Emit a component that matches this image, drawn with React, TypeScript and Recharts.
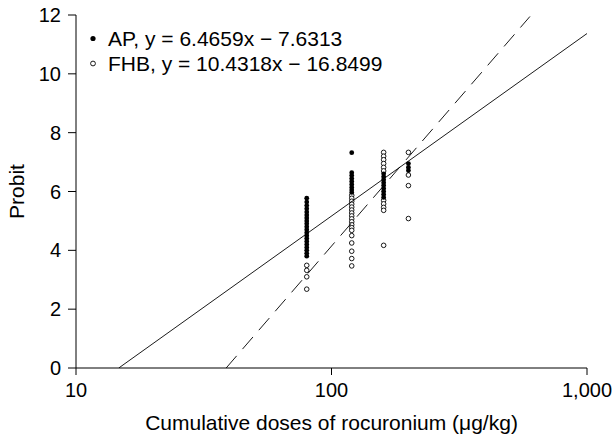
import React from 'react';
import { ScatterChart, Scatter, XAxis, YAxis } from 'recharts';

const FONT = '"Liberation Sans", Arial, sans-serif';

// dose levels (µg/kg) and probit readings per group
const apPoints = [
  { x: 80, y: 5.77 }, { x: 80, y: 5.64 }, { x: 80, y: 5.52 }, { x: 80, y: 5.41 },
  { x: 80, y: 5.3 }, { x: 80, y: 5.2 }, { x: 80, y: 5.1 }, { x: 80, y: 5.0 },
  { x: 80, y: 4.9 }, { x: 80, y: 4.8 }, { x: 80, y: 4.7 }, { x: 80, y: 4.6 },
  { x: 80, y: 4.5 }, { x: 80, y: 4.4 }, { x: 80, y: 4.3 }, { x: 80, y: 4.2 },
  { x: 80, y: 4.1 }, { x: 80, y: 4.0 }, { x: 80, y: 3.9 }, { x: 80, y: 3.8 },
  { x: 120, y: 7.32 }, { x: 120, y: 6.64 }, { x: 120, y: 6.54 }, { x: 120, y: 6.44 },
  { x: 120, y: 6.34 }, { x: 120, y: 6.24 }, { x: 120, y: 6.14 }, { x: 120, y: 6.05 },
  { x: 120, y: 5.97 },
  { x: 160, y: 6.6 }, { x: 160, y: 6.5 }, { x: 160, y: 6.4 }, { x: 160, y: 6.3 },
  { x: 160, y: 6.2 }, { x: 160, y: 6.1 }, { x: 160, y: 6.0 }, { x: 160, y: 5.9 },
  { x: 160, y: 5.8 },
  { x: 200, y: 6.95 }, { x: 200, y: 6.82 }, { x: 200, y: 6.71 },
];

const fhbPoints = [
  { x: 80, y: 3.49 }, { x: 80, y: 3.32 }, { x: 80, y: 3.1 }, { x: 80, y: 2.68 },
  { x: 120, y: 5.87 }, { x: 120, y: 5.77 }, { x: 120, y: 5.67 }, { x: 120, y: 5.57 },
  { x: 120, y: 5.47 }, { x: 120, y: 5.37 }, { x: 120, y: 5.27 }, { x: 120, y: 5.17 },
  { x: 120, y: 5.07 }, { x: 120, y: 4.97 }, { x: 120, y: 4.87 }, { x: 120, y: 4.77 },
  { x: 120, y: 4.68 }, { x: 120, y: 4.5 }, { x: 120, y: 4.25 }, { x: 120, y: 3.97 },
  { x: 120, y: 3.72 }, { x: 120, y: 3.47 },
  { x: 160, y: 7.33 }, { x: 160, y: 7.2 }, { x: 160, y: 7.08 }, { x: 160, y: 6.95 },
  { x: 160, y: 6.82 }, { x: 160, y: 6.7 }, { x: 160, y: 5.7 }, { x: 160, y: 5.58 },
  { x: 160, y: 5.46 }, { x: 160, y: 5.36 }, { x: 160, y: 4.17 },
  { x: 200, y: 7.33 }, { x: 200, y: 6.56 }, { x: 200, y: 6.2 }, { x: 200, y: 5.08 },
];

// regression lines, end points as drawn
const apLine = [{ x: 14.7, y: 0 }, { x: 1000, y: 11.37 }];
const fhbLine = [{ x: 38.7, y: 0 }, { x: 598, y: 11.95 }];

const xTicks = [10, 100, 1000];
const yTicks = [0, 2, 4, 6, 8, 10, 12];

const FilledDot = (props: any) => (
  <circle cx={props.cx} cy={props.cy} r={2.4} fill="#000" />
);
const OpenDot = (props: any) => (
  <circle cx={props.cx} cy={props.cy} r={2.3} fill="#fff" stroke="#000" strokeWidth={0.9} />
);
const NoDot = () => <g />;

export default function App() {
  const tickStyle = { fill: '#000', fontSize: 20, fontFamily: FONT };
  return (
    <div style={{ position: 'absolute', left: 0, top: 0, width: 616, height: 438, background: '#fff' }}>
      <ScatterChart width={616} height={438} margin={{ top: 15, right: 29, bottom: 0, left: 0 }}>
        <XAxis
          type="number"
          dataKey="x"
          scale="log"
          domain={[10, 1000]}
          ticks={xTicks}
          allowDataOverflow
          height={70}
          tickSize={7}
          tickMargin={8}
          stroke="#000"
          tick={tickStyle}
          tickFormatter={(v: number) => v.toLocaleString('en-US')}
          label={{
            value: 'Cumulative doses of rocuronium (μg/kg)',
            position: 'insideBottom',
            offset: 8,
            style: { fill: '#000', fontSize: 21, fontFamily: FONT },
          }}
        />
        <YAxis
          type="number"
          dataKey="y"
          domain={[0, 12]}
          ticks={yTicks}
          allowDataOverflow
          width={76}
          tickSize={8}
          tickMargin={7}
          stroke="#000"
          tick={tickStyle}
          label={{
            value: 'Probit',
            angle: -90,
            position: 'insideLeft',
            offset: 17,
            style: { fill: '#000', fontSize: 21, fontFamily: FONT, textAnchor: 'middle' },
          }}
        />
        <Scatter data={fhbPoints} shape={OpenDot} isAnimationActive={false} />
        <Scatter data={apPoints} shape={FilledDot} isAnimationActive={false} />
        <Scatter
          data={apLine}
          shape={NoDot}
          line={{ stroke: '#000', strokeWidth: 0.9 }}
          isAnimationActive={false}
        />
        <Scatter
          data={fhbLine}
          shape={NoDot}
          line={{ stroke: '#000', strokeWidth: 0.9, strokeDasharray: '16 9' }}
          isAnimationActive={false}
        />
      </ScatterChart>
      <svg
        width={400}
        height={80}
        style={{ position: 'absolute', left: 0, top: 0 }}
        fontFamily={FONT}
        fontSize={21}
      >
        <circle cx={93} cy={38.5} r={2.6} fill="#000" />
        <text x={108} y={45.5} fill="#000">AP, y = 6.4659x − 7.6313</text>
        <circle cx={93} cy={63.5} r={2.4} fill="#fff" stroke="#000" strokeWidth={0.9} />
        <text x={108} y={71} fill="#000">FHB, y = 10.4318x − 16.8499</text>
      </svg>
    </div>
  );
}
